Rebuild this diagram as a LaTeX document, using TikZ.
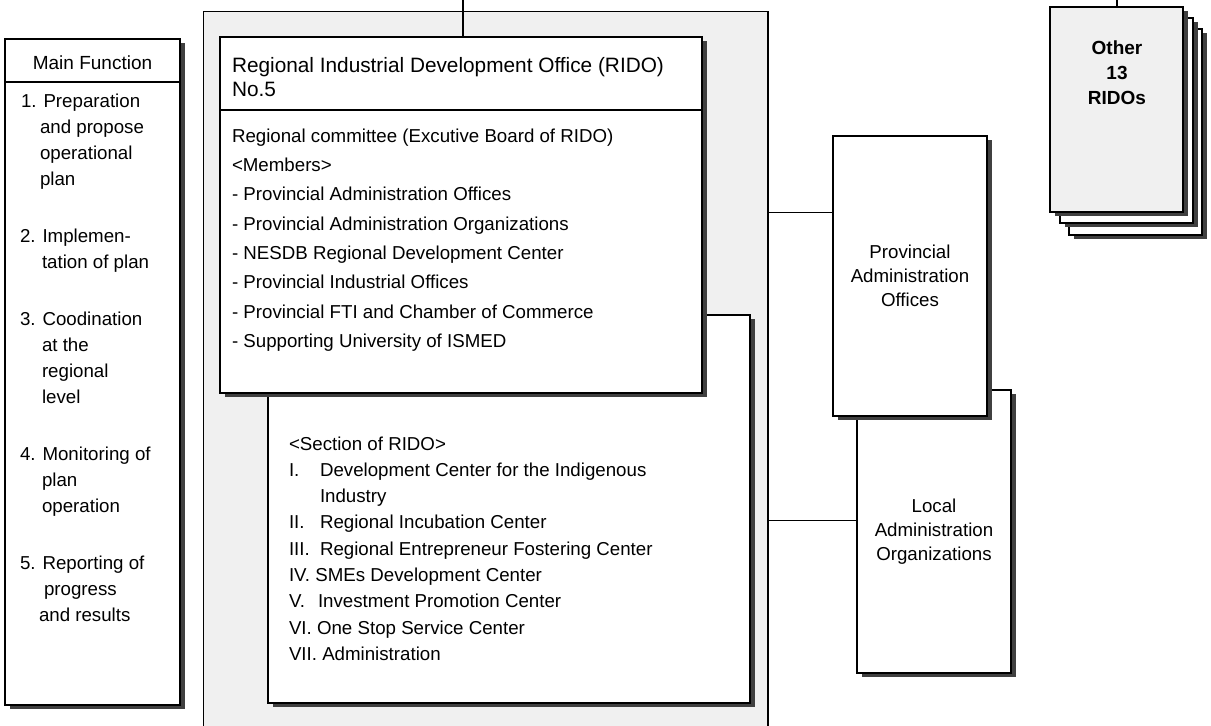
\documentclass[tikz,border=0pt]{standalone}
\usepackage{fontspec}
\setmainfont{Liberation Sans}
\usetikzlibrary{shadows}
\begin{document}
\begin{tikzpicture}[x=1pt,y=-1pt,
  every node/.style={inner sep=0pt,outer sep=0pt},
  txt/.style={anchor=base west,font=\fontsize{18.7}{24}\selectfont},
  ttl/.style={anchor=base west,font=\fontsize{20.8}{24}\selectfont},
  ctxt/.style={align=center,font=\fontsize{18.7}{24}\selectfont},
  btxt/.style={anchor=base,font=\bfseries\fontsize{19}{24}\selectfont},
  plainbox/.style={draw=black,line width=1.3pt,fill=white,anchor=north west},
  shbox/.style={plainbox,drop shadow={shadow xshift=4.5pt,shadow yshift=-4pt,fill=black!75,opacity=1}},
  stipple/.style={fill=black!6},
  conn/.style={draw=black,line width=1pt},
  stem/.style={draw=black,line width=2pt}]
\useasboundingbox (0,0) rectangle (1211,726);

% outer stippled frame
\node[plainbox,stipple,line width=1pt,minimum width=565pt,minimum height=740pt] (outer) at (203,11) {};
\draw[line width=2.5pt] (outer.north east) -- (outer.south east);

% section box (behind RIDO box)
\node[shbox,minimum width=482pt,minimum height=388pt] (sec) at (268,315) {};
% RIDO box
\node[shbox,minimum width=482pt,minimum height=73pt] (ridoh) at (220,37) {};
\node[shbox,minimum width=482pt,minimum height=283pt] (ridob) at (220,110) {};

% main function
\node[shbox,minimum width=175pt,minimum height=43pt] (mfh) at (5,39) {};
\node[shbox,minimum width=175pt,minimum height=623pt] (mfb) at (5,82) {};

% local / provincial
\node[shbox,minimum width=154pt,minimum height=283pt] (local) at (857,390) {};
\node[shbox,minimum width=154pt,minimum height=280pt] (prov) at (833,136) {};

% other RIDOs stack
\node[shbox,minimum width=133pt,minimum height=206pt] (o3) at (1069,29) {};
\node[shbox,minimum width=133pt,minimum height=205pt] (o2) at (1060,18) {};
\node[shbox,stipple,minimum width=133pt,minimum height=205pt] (o1) at (1050,7) {};

% connectors
\coordinate (t1) at (463,0);
\draw[stem] (t1) -- (t1 |- ridoh.north);
\coordinate (t2) at (1117,0);
\draw[stem] (t2) -- (t2 |- o1.north);
\coordinate (c1) at (768,212);
\draw[conn] (c1) -- (c1 -| prov.west);
\coordinate (c2) at (768,520);
\draw[conn] (c2) -- (c2 -| local.west);

% main function texts
\node[anchor=base,font=\fontsize{19}{24}\selectfont] (mft) at (92.5,69) {Main Function};
\node[txt] (m1a) at (21,107) {1. Preparation};
\node[txt] (m1b) at (40,133) {and propose};
\node[txt] (m1c) at (40,159) {operational};
\node[txt] (m1d) at (40,185) {plan};
\node[txt] (m2a) at (20,242) {2. Implemen-};
\node[txt] (m2b) at (42,268) {tation of plan};
\node[txt] (m3a) at (20,325) {3. Coodination};
\node[txt] (m3b) at (42,351) {at the};
\node[txt] (m3c) at (42,377) {regional};
\node[txt] (m3d) at (42,403) {level};
\node[txt] (m4a) at (20,460) {4. Monitoring of};
\node[txt] (m4b) at (42,486) {plan};
\node[txt] (m4c) at (42,512) {operation};
\node[txt] (m5a) at (20,569) {5. Reporting of};
\node[txt] (m5b) at (44,595) {progress};
\node[txt] (m5c) at (39,621) {and results};

% RIDO texts
\node[ttl] (r0a) at (232,72) {Regional Industrial Development Office (RIDO)};
\node[ttl] (r0b) at (232,96) {No.5};
\node[txt] (r1) at (232,142) {Regional committee (Excutive Board of RIDO)};
\node[txt] (r2) at (232,171) {\textless Members\textgreater};
\node[txt] (r3) at (232,200.5) {- Provincial Administration Offices};
\node[txt] (r4) at (232,230) {- Provincial Administration Organizations};
\node[txt] (r5) at (232,259) {- NESDB Regional Development Center};
\node[txt] (r6) at (232,288.5) {- Provincial Industrial Offices};
\node[txt] (r7) at (232,318) {- Provincial FTI and Chamber of Commerce};
\node[txt] (r8) at (232,347) {- Supporting University of ISMED};

% section texts
\node[txt] (s0) at (289,450) {\textless Section of RIDO\textgreater};
\node[txt] (s1n) at (289,476.3) {I.};
\node[txt] (s1a) at (320,476.3) {Development Center for the Indigenous};
\node[txt] (s1b) at (320,502.6) {Industry};
\node[txt] (s2n) at (289,528.9) {II.};
\node[txt] (s2) at (320,528.9) {Regional Incubation Center};
\node[txt] (s3n) at (289,555.2) {III.};
\node[txt] (s3) at (320,555.2) {Regional Entrepreneur Fostering Center};
\node[txt] (s4) at (289,581.5) {IV. SMEs Development Center};
\node[txt] (s5n) at (289,607.8) {V.};
\node[txt] (s5) at (318,607.8) {Investment Promotion Center};
\node[txt] (s6) at (289,634.1) {VI. One Stop Service Center};
\node[txt] (s7) at (289,660.4) {VII. Administration};

% right boxes texts
\node[ctxt] (provt) at (prov.center) {Provincial\\Administration\\Offices};
\node[ctxt] (localt) at (local.center) {Local\\Administration\\Organizations};
\node[btxt] (ot1) at (1117,54) {Other};
\node[btxt] (ot2) at (1117,79) {13};
\node[btxt] (ot3) at (1117,104) {RIDOs};
\end{tikzpicture}
\end{document}
